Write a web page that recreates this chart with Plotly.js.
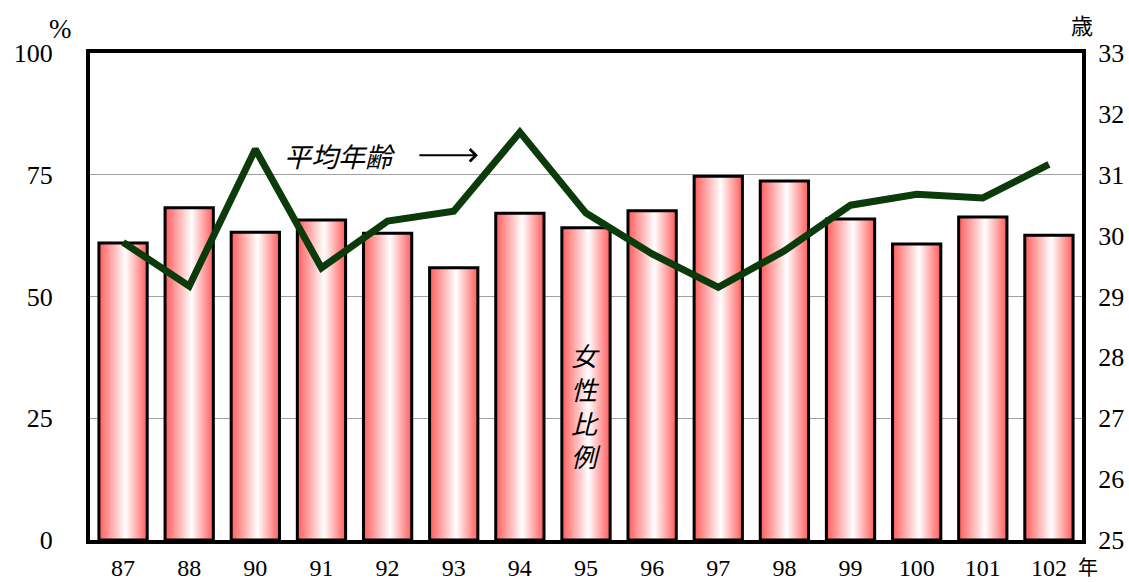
<!DOCTYPE html>
<html><head><meta charset="utf-8">
<script src="https://cdn.plot.ly/plotly-3.0.1.min.js"></script>
<style>body{margin:0;background:#fff}#c{width:1129px;height:582px}</style>
</head><body><div id="c"></div>
<script>
const years = ["87","88","90","91","92","93","94","95","96","97","98","99","100","101","102"];
const femaleShare = [61.0,68.2,63.2,65.7,63.0,55.9,67.1,64.1,67.6,74.7,73.7,65.9,60.8,66.3,62.6];
const avgAge = [29.89,29.17,31.42,29.47,30.24,30.40,31.70,30.37,29.70,29.15,29.75,30.50,30.68,30.62,31.17];
const leftTicks = [0,25,50,75,100];
const rightTicks = [25,26,27,28,29,30,31,32,33];

const serif = "'Liberation Serif', 'DejaVu Serif', serif";
const cjk = "'Noto Sans CJK JP', 'Noto Sans CJK TC', sans-serif";

const traces = [
  {type:"bar", x:years, y:femaleShare, yaxis:"y",
   marker:{color:"#ff7a7a", line:{color:"#000", width:3}}, hoverinfo:"none"},
  {type:"scatter", mode:"lines", x:years, y:avgAge, yaxis:"y2",
   line:{color:"#0b3a0b", width:7}, hoverinfo:"none"}
];

const layout = {
  width:1129, height:582,
  margin:{l:90, r:47, t:53, b:42},
  paper_bgcolor:"#fff", plot_bgcolor:"#fff",
  showlegend:false, bargap:0.27,
  font:{family:serif, size:26, color:"#000"},
  xaxis:{type:"category", showline:true, mirror:true, linewidth:4, linecolor:"#000",
         ticks:"outside", ticklen:3, tickcolor:"rgba(0,0,0,0)", showgrid:false,
         tickfont:{family:serif, size:24}},
  yaxis:{range:[0,100], tickvals:leftTicks, showline:true, mirror:true, linewidth:4, linecolor:"#000",
         showgrid:true, gridcolor:"#a0a0a0", gridwidth:1, zeroline:false,
         ticks:"outside", ticklen:28, tickcolor:"rgba(0,0,0,0)", tickfont:{family:serif, size:26}},
  yaxis2:{range:[25,33], tickvals:rightTicks, overlaying:"y", side:"right", showgrid:false,
          zeroline:false, ticks:"outside", ticklen:10, tickcolor:"rgba(0,0,0,0)",
          tickfont:{family:serif, size:26}},
  annotations:[
    {xref:"paper", yref:"paper", x:0.252, y:0.79, xanchor:"center", yanchor:"middle",
     text:"<i>平均年齢</i>", showarrow:false, font:{family:cjk, size:27, color:"#000"}},
    {xref:"paper", yref:"paper", x:0.391, y:0.79, ax:-60, ay:0, text:"", showarrow:true,
     arrowhead:4, arrowsize:1.2, arrowwidth:2, arrowcolor:"#000"},
    {xref:"paper", yref:"paper", x:0.5, y:0.277, xanchor:"center", yanchor:"middle",
     text:"<i>女<br>性<br>比<br>例</i>", showarrow:false,
     font:{family:cjk, size:26, color:"#000"}},
    {xref:"paper", yref:"paper", x:-0.03, y:1.05, xanchor:"center", yanchor:"middle", text:"%",
     showarrow:false, font:{family:serif, size:27}},
    {xref:"paper", yref:"paper", x:1.0, y:1.06, xanchor:"center", yanchor:"middle", text:"歳",
     showarrow:false, font:{family:cjk, size:22}},
    {xref:"paper", yref:"paper", x:1.006, y:-0.055, xanchor:"center", yanchor:"middle", text:"年",
     showarrow:false, font:{family:cjk, size:20}}
  ]
};

Plotly.newPlot("c", traces, layout, {displayModeBar:false, staticPlot:true}).then(function(){
  const svg = document.querySelector("#c .main-svg");
  const ns = "http://www.w3.org/2000/svg";
  let defs = svg.querySelector("defs");
  if(!defs){ defs = document.createElementNS(ns,"defs"); svg.insertBefore(defs, svg.firstChild); }
  const g = document.createElementNS(ns,"linearGradient");
  g.setAttribute("id","barGrad"); g.setAttribute("x1","0"); g.setAttribute("x2","1");
  g.setAttribute("y1","0"); g.setAttribute("y2","0");
  [["0","#ff5c5c"],["0.55","#ffffff"],["1","#ff5c5c"]].forEach(function(s){
    const st = document.createElementNS(ns,"stop");
    st.setAttribute("offset",s[0]); st.setAttribute("stop-color",s[1]); g.appendChild(st);
  });
  defs.appendChild(g);
  document.querySelectorAll("#c .barlayer .point path").forEach(function(p){
    p.style.fill = "url(#barGrad)";
  });
});
</script></body></html>
